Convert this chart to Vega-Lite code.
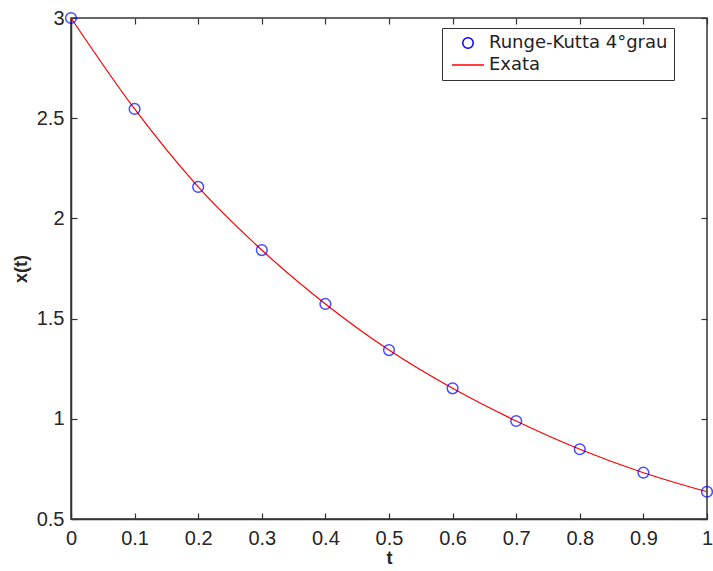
{
  "$schema": "https://vega.github.io/schema/vega-lite/v6.json",
  "width": 636,
  "height": 501,
  "autosize": {"type": "none"},
  "padding": {"left": 71, "top": 18, "right": 6, "bottom": 52},
  "background": "white",
  "config": {
    "view": {"stroke": "#333333", "strokeWidth": 1.5},
    "axis": {
      "grid": false,
      "domainColor": "#333333",
      "domainWidth": 1.5,
      "tickColor": "#333333",
      "tickWidth": 1.2,
      "labelFont": "Liberation Sans",
      "labelFontSize": 20,
      "labelFontWeight": "normal",
      "labelColor": "#262626",
      "titleFont": "Liberation Sans",
      "titleFontSize": 18,
      "titleFontWeight": "bold",
      "titleColor": "#262626"
    }
  },
  "data": {
    "values": [
      {"t": 0.0, "x": 3.0},
      {"t": 0.1, "x": 2.546},
      {"t": 0.2, "x": 2.157},
      {"t": 0.3, "x": 1.842},
      {"t": 0.4, "x": 1.573},
      {"t": 0.5, "x": 1.343},
      {"t": 0.6, "x": 1.152},
      {"t": 0.7, "x": 0.989},
      {"t": 0.8, "x": 0.848},
      {"t": 0.9, "x": 0.731},
      {"t": 1.0, "x": 0.636}
    ]
  },
  "layer": [
    {
      "mark": {"type": "line", "interpolate": "monotone", "strokeWidth": 1.2},
      "encoding": {
        "x": {
          "field": "t", "type": "quantitative",
          "scale": {"domain": [0, 1], "nice": false, "zero": false},
          "axis": {"orient": "bottom", "values": [0,0.1,0.2,0.3,0.4,0.5,0.6,0.7,0.8,0.9,1], "format": "~g", "tickSize": -6, "labelPadding": 15, "title": "t", "titlePadding": 1, "labelFlush": false}
        },
        "y": {
          "field": "x", "type": "quantitative",
          "scale": {"domain": [0.5, 3], "nice": false, "zero": false},
          "axis": {"orient": "left", "values": [0.5,1,1.5,2,2.5,3], "format": "~g", "tickSize": -6, "labelPadding": 13, "title": "x(t)", "titlePadding": 6, "labelFlush": false}
        },
        "color": {
          "datum": "Exata",
          "scale": {"domain": ["Runge-Kutta 4°grau", "Exata"], "range": ["#0000ff", "#ff0000"]},
          "legend": {
            "title": "\u00a0\u00a0\u00a0\u00a0",
            "titleOrient": "right",
            "titleFont": "DejaVu Sans",
            "titleFontSize": 18,
            "titlePadding": 0,
            "orient": "none",
            "legendX": 371,
            "legendY": 10,
            "direction": "vertical",
            "strokeColor": "#333333",
            "fillColor": "white",
            "padding": 6,
            "labelFont": "DejaVu Sans",
            "labelFontSize": 18,
            "labelColor": "#222222",
            "labelLimit": 400,
            "symbolSize": 1024,
            "symbolOffset": 11,
            "rowPadding": 4,
            "labelOffset": 12,
            "symbolStrokeWidth": 1.5,
            "encode": {
              "symbols": {
                "update": {
                  "shape": {"signal": "datum.value === 'Exata' ? 'stroke' : 'circle'"},
                  "size": {"signal": "datum.value === 'Exata' ? 1024 : 110"},
                  "fill": {"signal": "'transparent'"},
                  "stroke": {"signal": "datum.value === 'Exata' ? '#ff0000' : '#0000ff'"}
                }
              }
            }
          }
        }
      }
    },
    {
      "mark": {"type": "point", "shape": "circle", "filled": false, "size": 115, "strokeWidth": 1.5},
      "encoding": {
        "x": {
          "field": "t", "type": "quantitative",
          "axis": {"orient": "top", "values": [0,0.1,0.2,0.3,0.4,0.5,0.6,0.7,0.8,0.9,1], "tickSize": -6, "labels": false, "title": null, "domain": false}
        },
        "y": {
          "field": "x", "type": "quantitative",
          "axis": {"orient": "right", "values": [0.5,1,1.5,2,2.5,3], "tickSize": -6, "labels": false, "title": null, "domain": false}
        },
        "color": {"datum": "Runge-Kutta 4°grau"}
      }
    }
  ],
  "resolve": {"axis": {"x": "independent", "y": "independent"}}
}
